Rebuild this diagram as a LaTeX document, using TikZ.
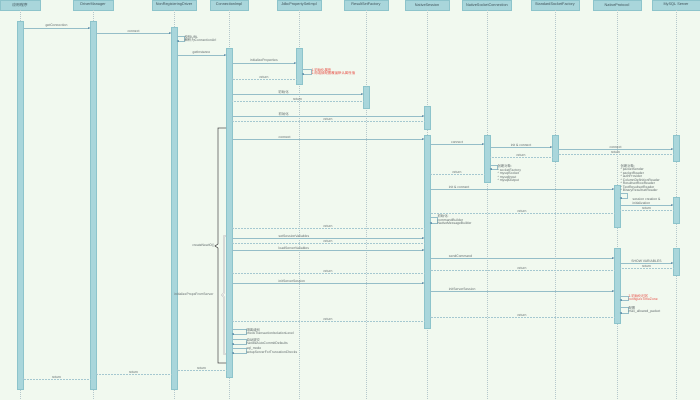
\documentclass[tikz,border=0pt]{standalone}
\usepackage{fontspec}
\setmainfont{Liberation Sans}
\newfontfamily\cjk{Noto Sans CJK SC}
\usetikzlibrary{positioning,arrows.meta,fit,calc}
\usepackage{xcolor}
\definecolor{bgc}{HTML}{F1F9EF}
\definecolor{barfill}{HTML}{A9D6DB}
\definecolor{bardraw}{HTML}{8DC4CB}
\definecolor{msgline}{HTML}{95BEC8}
\definecolor{tipc}{HTML}{3E7398}
\definecolor{txt}{HTML}{5B6567}
\definecolor{hdrtxt}{HTML}{3E5158}
\definecolor{redtxt}{HTML}{E8453C}
\definecolor{lifec}{HTML}{B5C8CC}

\begin{document}
\begin{tikzpicture}[x=2pt, y=-2pt,
    party/.style={draw=bardraw, fill=barfill, minimum height=20pt, minimum width=#1, inner sep=1pt, font=\fontsize{7.6}{8}\selectfont, text=hdrtxt},
    party/.default={80pt},
    bar/.style={draw=bardraw, fill=barfill, inner xsep=5.5pt, inner ysep=0pt},
    life/.style={draw=lifec, line width=0.5pt, dash pattern=on 2pt off 2pt},
    call/.style={draw=msgline, line width=0.7pt, -{Stealth[length=4pt,width=3.4pt,color=tipc]}},
    ret/.style={draw=msgline!85, line width=0.8pt, dash pattern=on 1.2pt off 1.8pt, -{Straight Barb[length=2pt,width=4pt]}},
    lbl/.style={font=\fontsize{6.8}{7}\selectfont, text=txt, inner sep=1pt, #1},
    lbl/.default={},
    brk/.style={draw=gray!60!black, line width=1.3pt},
    brkin/.style={draw=gray!55, double=gray!15, double distance=1.4pt, line width=0.6pt},
]
\fill[bgc] (0,0) rectangle (700,400);
\useasboundingbox (0,0) rectangle (700,400);

% ===== PARTICIPANTS =====
\node[party] (app) at (20,5) {\cjk 应用程序};
\node[party] (dm) at (93,5) {DriverManager};
\node[party=88pt] (nr) at (174,5) {NonRegisteringDriver};
\node[party=76pt] (ci) at (229,5) {ConnectionImpl};
\node[party=88pt] (jp) at (299,5) {JdbcPropertySetImpl};
\node[party=88pt] (rf) at (366,5) {ResultSetFactory};
\node[party=88pt] (ns) at (427,5) {NativeSession};
\node[party=98pt] (nc) at (487,5) {NativeSocketConnection};
\node[party=96pt] (sf) at (555,5) {StandardSocketFactory};
\node[party=96pt] (np) at (617,5) {NativeProtocol};
\node[party=96pt] (my) at (676,5) {MySQL Server};

\foreach \p in {app,dm,nr,ci,jp,rf,ns,nc,sf,np,my}
  \draw[life] (\p.south) -- (\p.south |- 0,400);

% ===== ACTIVATIONS =====
\node[bar, fit={(app.south |- 0,21) (app.south |- 0,389)}] (appB) {};
\node[bar, fit={(dm.south |- 0,21) (dm.south |- 0,389)}] (dmB) {};
\node[bar, fit={(nr.south |- 0,27) (nr.south |- 0,389)}] (nrB) {};
\node[bar, fit={(ci.south |- 0,48) (ci.south |- 0,377)}] (ciB) {};
\node[bar, fit={(jp.south |- 0,48) (jp.south |- 0,84)}] (jpB) {};
\node[bar, fit={(rf.south |- 0,86) (rf.south |- 0,108)}] (rfB) {};
\node[bar, fit={(ns.south |- 0,106) (ns.south |- 0,129)}] (nsB) {};
\node[bar, fit={(ns.south |- 0,135) (ns.south |- 0,328)}] (nsC) {};
\node[bar, fit={(nc.south |- 0,135) (nc.south |- 0,182)}] (ncB) {};
\node[bar, fit={(sf.south |- 0,135) (sf.south |- 0,161)}] (sfB) {};
\node[bar, fit={(my.south |- 0,135) (my.south |- 0,161)}] (myB) {};
\node[bar, fit={(my.south |- 0,197) (my.south |- 0,223)}] (myC) {};
\node[bar, fit={(my.south |- 0,248) (my.south |- 0,275)}] (myD) {};
\node[bar, fit={(np.south |- 0,185) (np.south |- 0,227)}] (npB) {};
\node[bar, fit={(np.south |- 0,248) (np.south |- 0,323)}] (npC) {};

% ===== BRACKETS =====
\node[lbl, anchor=east] (cnio) at (215,246) {createNewIO()};
\node[lbl, anchor=east] (ipfs) at (214,295) {initializePropsFromServer};
\draw[brkin] (ciB.west |- 0,236) -- (224,236) -- (224,293) -- (222,295) -- (224,297) -- (224,354) -- (ciB.west |- 0,354);
\draw[brk] (ciB.west |- 0,128) -- (218,128) -- (218,244) -- (cnio.east) -- (218,248) -- (218,363) -- (ciB.west |- 0,363);

% ===== MESSAGES =====
\draw[call] (appB.east |- 0,28) -- (dmB.west |- 0,28) node[lbl, midway, above] {getConnection};
\draw[call] (dmB.east |- 0,33) -- (nrB.west |- 0,33) node[lbl, midway, above] {connect};
\draw[call] (nrB.east |- 0,36) -- ++(7,0) |- (nrB.east |- 0,41) node[lbl, pos=0.25, right, align=left] {{\cjk 校验}URL\\{\cjk 解析为}ConnectionUrl};
\draw[call] (nrB.east |- 0,55) -- (ciB.west |- 0,55) node[lbl, midway, above] {getInstance};
\draw[call] (ciB.east |- 0,63) -- (jpB.west |- 0,63) node[lbl, midway, above] {initializeProperties};
\draw[call] (jpB.east |- 0,69) -- ++(9,0) |- (jpB.east |- 0,74) node[lbl=redtxt, pos=0.25, right, align=left] {\cjk 1.初始化属性\\\cjk 2.用连接配置覆盖默认属性值};
\draw[ret] (jpB.west |- 0,79) -- (ciB.east |- 0,79) node[lbl, midway, above] {return};
\draw[call] (ciB.east |- 0,94) -- (rfB.west |- 0,94) node[lbl, pos=0.35, anchor=south west] {\cjk 初始化};
\draw[ret] (rfB.west |- 0,101) -- (ciB.east |- 0,101) node[lbl, midway, above] {return};
\draw[call] (ciB.east |- 0,116) -- (nsB.west |- 0,116) node[lbl, pos=0.24, anchor=south west] {\cjk 初始化};
\draw[ret] (nsB.west |- 0,121) -- (ciB.east |- 0,121) node[lbl, midway, above] {return};

\draw[call] (ciB.east |- 0,139) -- (nsC.west |- 0,139) node[lbl, pos=0.24, anchor=south west] {connect};
\draw[call] (nsC.east |- 0,144) -- (ncB.west |- 0,144) node[lbl, midway, above] {connect};
\draw[call] (ncB.east |- 0,147) -- (sfB.west |- 0,147) node[lbl, midway, above] {init \& connect};
\draw[call] (sfB.east |- 0,149) -- (myB.west |- 0,149) node[lbl, midway, above] {connect};
\draw[ret] (myB.west |- 0,154) -- (sfB.east |- 0,154) node[lbl, midway, above] {return};
\draw[ret] (sfB.west |- 0,157) -- (ncB.east |- 0,157) node[lbl, midway, above] {return};
\draw[call] (ncB.east |- 0,165) -- ++(7,0) |- (ncB.east |- 0,169) node[lbl, pos=0, anchor=north west, yshift=2pt, align=left] {{\cjk 创建对象}:\\* socketFactory\\* mysqlSocket\\* mysqlInput\\* mysqlOutput};
\draw[ret] (ncB.west |- 0,174) -- (nsC.east |- 0,174) node[lbl, midway, above] {return};

\draw[call] (nsC.east |- 0,189) -- (npB.west |- 0,189) node[lbl, pos=0.1, anchor=south west] {init \& connect};
\draw[call] (npB.east |- 0,193) -- ++(7,0) |- (npB.east |- 0,198) node[lbl, pos=0, anchor=south west, xshift=-14pt, align=left] {{\cjk 创建对象}:\\* packetSender\\* packetReader\\* authProvider\\* ColumnDefinitionReader\\* ResultsetRowReader\\* TextResultsetReader\\* BinaryResultsetReader};
\draw[call] (npB.east |- 0,205) -- (myC.west |- 0,205) node[lbl, midway, above, align=left] {session creation \&\\initialization};
\draw[ret] (myC.west |- 0,210) -- (npB.east |- 0,210) node[lbl, midway, above] {return};
\draw[ret] (npB.west |- 0,213) -- (nsC.east |- 0,213) node[lbl, midway, above] {return};
\draw[call] (nsC.east |- 0,217) -- ++(7,0) |- (nsC.east |- 0,223) node[lbl, pos=0.25, right, align=left] {{\cjk 初始化}:\\commandBuilder\\NativeMessageBuilder};
\draw[ret] (nsC.west |- 0,228) -- (ciB.east |- 0,228) node[lbl, midway, above] {return};

\draw[call] (ciB.east |- 0,238) -- (nsC.west |- 0,238) node[lbl, pos=0.24, anchor=south west] {setSessionVariables};
\draw[ret] (nsC.west |- 0,243) -- (ciB.east |- 0,243) node[lbl, midway, above] {return};
\draw[call] (ciB.east |- 0,250) -- (nsC.west |- 0,250) node[lbl, pos=0.24, anchor=south west] {loadServerVariables};
\draw[call] (nsC.east |- 0,258) -- (npC.west |- 0,258) node[lbl, pos=0.1, anchor=south west] {sendCommand};
\draw[call] (npC.east |- 0,263) -- (myD.west |- 0,263) node[lbl, midway, above] {SHOW VARIABLES};
\draw[ret] (myD.west |- 0,268) -- (npC.east |- 0,268) node[lbl, midway, above] {return};
\draw[ret] (npC.west |- 0,270) -- (nsC.east |- 0,270) node[lbl, midway, above] {return};
\draw[ret] (nsC.west |- 0,273) -- (ciB.east |- 0,273) node[lbl, midway, above] {return};

\draw[call] (ciB.east |- 0,283) -- (nsC.west |- 0,283) node[lbl, pos=0.24, anchor=south west] {initServerSession};
\draw[call] (nsC.east |- 0,291) -- (npC.west |- 0,291) node[lbl, pos=0.1, anchor=south west] {initServerSession};
\draw[call] (npC.east |- 0,296) -- ++(8,0) |- (npC.east |- 0,300) node[lbl=redtxt, pos=0.25, right, align=left] {\cjk 2.初始化时区\\configureTimeZone};
\draw[call] (npC.east |- 0,307) -- ++(8,0) |- (npC.east |- 0,313) node[lbl, pos=0.25, right, align=left] {\cjk 配置\\max\_allowed\_packet};
\draw[ret] (npC.west |- 0,317) -- (nsC.east |- 0,317) node[lbl, midway, above] {return};
\draw[ret] (nsC.west |- 0,321) -- (ciB.east |- 0,321) node[lbl, midway, above] {return};

\draw[call] (ciB.east |- 0,329) -- ++(14,0) |- (ciB.east |- 0,334) node[lbl, pos=0.25, right, align=left] {\cjk 隔离级别\\checkTransactionIsolationLevel};
\draw[call] (ciB.east |- 0,339) -- ++(14,0) |- (ciB.east |- 0,344) node[lbl, pos=0.25, right, align=left] {\cjk 自动提交\\handleAutoCommitDefaults};
\draw[call] (ciB.east |- 0,348) -- ++(14,0) |- (ciB.east |- 0,353) node[lbl, pos=0.25, right, align=left] {sql\_mode\\setupServerForTruncationChecks};

\draw[ret] (ciB.west |- 0,370) -- (nrB.east |- 0,370) node[lbl, midway, above] {return};
\draw[ret] (nrB.west |- 0,374) -- (dmB.east |- 0,374) node[lbl, midway, above] {return};
\draw[ret] (dmB.west |- 0,379) -- (appB.east |- 0,379) node[lbl, midway, above] {return};

\end{tikzpicture}
\end{document}
